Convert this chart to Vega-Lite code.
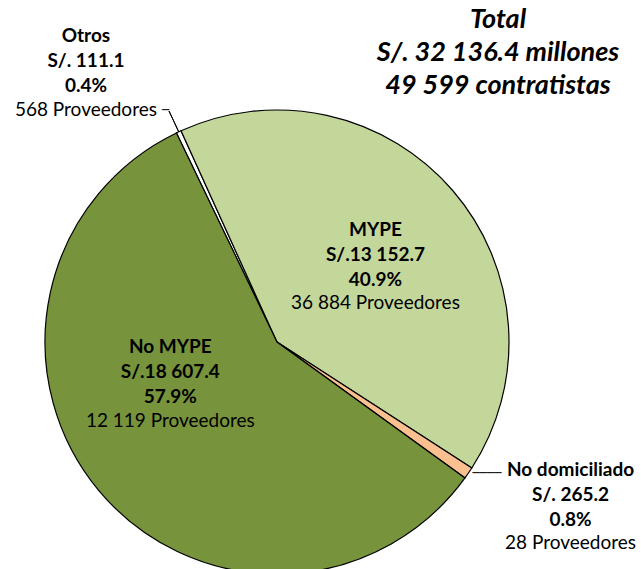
{
  "$schema": "https://vega.github.io/schema/vega-lite/v6.json",
  "width": 454,
  "height": 454,
  "autosize": {"type": "none"},
  "padding": {"left": 50, "top": 115, "right": 137, "bottom": 0},
  "background": "white",
  "config": {"view": {"stroke": null}},
  "title": {
    "text": ["Total", "S/. 32 136.4 millones", "49 599 contratistas"],
    "font": "Lato", "fontSize": 27, "fontStyle": "italic", "fontWeight": "bold",
    "color": "black", "lineHeight": 33, "anchor": "middle", "frame": "group",
    "dx": 221, "offset": 0, "dy": 139
  },
  "data": {
    "values": [
      {"cat": "Otros", "value": 111.1, "ord": 1, "bold": ["Otros", "S/. 111.1", "0.4%"], "reg": "568 Proveedores"},
      {"cat": "MYPE", "value": 13152.7, "ord": 2, "bold": ["MYPE", "S/.13 152.7", "40.9%"], "reg": "36 884 Proveedores"},
      {"cat": "No domiciliado", "value": 265.2, "ord": 3, "bold": ["No domiciliado", "S/. 265.2", "0.8%"], "reg": "28 Proveedores"},
      {"cat": "No MYPE", "value": 18607.4, "ord": 4, "bold": ["No MYPE", "S/.18 607.4", "57.9%"], "reg": "12 119 Proveedores"}
    ]
  },
  "encoding": {
    "theta": {"field": "value", "type": "quantitative", "stack": true, "scale": {"range": [5.835, 12.118], "nice": false}},
    "order": {"field": "ord", "type": "quantitative"}
  },
  "layer": [
    {
      "mark": {"type": "arc", "outerRadius": 232, "stroke": "#000000", "strokeWidth": 1.2},
      "encoding": {
        "color": {"field": "cat", "type": "nominal", "legend": null,
          "scale": {"domain": ["Otros", "MYPE", "No domiciliado", "No MYPE"], "range": ["#FFFFFF", "#C4D79B", "#FAC090", "#77933C"]}}
      }
    },
    {
      "mark": {"type": "arc", "innerRadius": 232, "outerRadius": 255, "padAngle": 0.5, "fillOpacity": 0, "stroke": "#000000", "strokeWidth": 1},
      "encoding": {
        "detail": {"field": "cat", "type": "nominal"},
        "opacity": {"condition": {"test": "datum.cat === 'Otros'", "value": 1}, "value": 0}
      }
    },
    {
      "mark": {"type": "text", "radius": 300, "dx": 12, "dy": 40, "align": "left", "baseline": "middle", "font": "DejaVu Sans", "fontSize": 12, "color": "black"},
      "encoding": {
        "detail": {"field": "cat", "type": "nominal"},
        "text": {"condition": {"test": "datum.cat === 'Otros'", "value": "─"}, "value": ""}
      }
    },
    {
      "mark": {"type": "text", "radius": 340, "dx": -85, "dy": -61, "align": "left", "baseline": "middle", "font": "DejaVu Sans", "fontSize": 12, "color": "black"},
      "encoding": {
        "detail": {"field": "cat", "type": "nominal"},
        "text": {"condition": {"test": "datum.cat === 'No domiciliado'", "value": "────"}, "value": ""}
      }
    },
    {
      "mark": {"type": "text", "radius": 126, "dx": 3, "dy": -30, "align": "center", "baseline": "middle", "font": "Lato", "fontSize": 19, "fontWeight": "bold", "lineHeight": 25, "color": "black"},
      "encoding": {
        "detail": {"field": "cat", "type": "nominal"},
        "text": {"condition": {"test": "datum.cat === 'MYPE'", "field": "bold", "type": "nominal"}, "value": ""}
      }
    },
    {
      "mark": {"type": "text", "radius": 126, "dx": 3, "dy": 43, "align": "center", "baseline": "middle", "font": "Lato", "fontSize": 19, "color": "black"},
      "encoding": {
        "detail": {"field": "cat", "type": "nominal"},
        "text": {"condition": {"test": "datum.cat === 'MYPE'", "field": "reg", "type": "nominal"}, "value": ""}
      }
    },
    {
      "mark": {"type": "text", "radius": 126, "dx": -10, "dy": -76, "align": "center", "baseline": "middle", "font": "Lato", "fontSize": 19, "fontWeight": "bold", "lineHeight": 25, "color": "black"},
      "encoding": {
        "detail": {"field": "cat", "type": "nominal"},
        "text": {"condition": {"test": "datum.cat === 'No MYPE'", "field": "bold", "type": "nominal"}, "value": ""}
      }
    },
    {
      "mark": {"type": "text", "radius": 126, "dx": -10, "dy": -2, "align": "center", "baseline": "middle", "font": "Lato", "fontSize": 19, "color": "black"},
      "encoding": {
        "detail": {"field": "cat", "type": "nominal"},
        "text": {"condition": {"test": "datum.cat === 'No MYPE'", "field": "reg", "type": "nominal"}, "value": ""}
      }
    },
    {
      "mark": {"type": "text", "radius": 340, "dx": 13, "dy": -64, "align": "center", "baseline": "middle", "font": "Lato", "fontSize": 19, "fontWeight": "bold", "lineHeight": 25, "color": "black"},
      "encoding": {
        "detail": {"field": "cat", "type": "nominal"},
        "text": {"condition": {"test": "datum.cat === 'No domiciliado'", "field": "bold", "type": "nominal"}, "value": ""}
      }
    },
    {
      "mark": {"type": "text", "radius": 340, "dx": 13, "dy": 9, "align": "center", "baseline": "middle", "font": "Lato", "fontSize": 19, "color": "black"},
      "encoding": {
        "detail": {"field": "cat", "type": "nominal"},
        "text": {"condition": {"test": "datum.cat === 'No domiciliado'", "field": "reg", "type": "nominal"}, "value": ""}
      }
    },
    {
      "mark": {"type": "text", "radius": 300, "dx": -64, "dy": -34, "align": "center", "baseline": "middle", "font": "Lato", "fontSize": 19, "fontWeight": "bold", "lineHeight": 25, "color": "black"},
      "encoding": {
        "detail": {"field": "cat", "type": "nominal"},
        "text": {"condition": {"test": "datum.cat === 'Otros'", "field": "bold", "type": "nominal"}, "value": ""}
      }
    },
    {
      "mark": {"type": "text", "radius": 300, "dx": -64, "dy": 40, "align": "center", "baseline": "middle", "font": "Lato", "fontSize": 19, "color": "black"},
      "encoding": {
        "detail": {"field": "cat", "type": "nominal"},
        "text": {"condition": {"test": "datum.cat === 'Otros'", "field": "reg", "type": "nominal"}, "value": ""}
      }
    }
  ]
}
